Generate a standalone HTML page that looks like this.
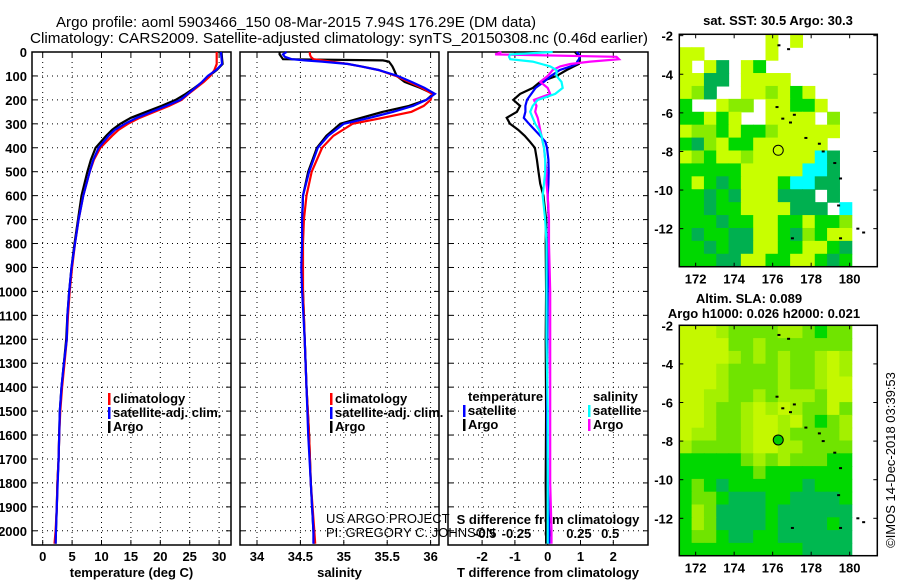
<!DOCTYPE html>
<html><head><meta charset="utf-8"><style>
html,body{margin:0;padding:0;background:#fff}
svg{display:block;font-family:"Liberation Sans",sans-serif}
.b{font-weight:bold;font-size:13px}
</style></head><body>
<svg id="s" width="900" height="580" xmlns="http://www.w3.org/2000/svg">
<text x="296" y="27" font-size="15" text-anchor="middle" textLength="480" lengthAdjust="spacingAndGlyphs">Argo profile: aoml 5903466_150 08-Mar-2015 7.94S 176.29E (DM data)</text>
<text x="339" y="43" font-size="15" text-anchor="middle" textLength="618" lengthAdjust="spacingAndGlyphs">Climatology: CARS2009. Satellite-adjusted climatology: synTS_20150308.nc (0.46d earlier)</text>
<g id="g"></g>
</svg>
<script>
// ---------- data ----------
const depthTicks=[0,100,200,300,400,500,600,700,800,900,1000,1100,1200,1300,1400,1500,1600,1700,1800,1900,2000];
const tempTicks=[0,5,10,15,20,25,30];
const salTicks=[34,34.5,35,35.5,36];
const salTickLabels=["34","34.5","35","35.5","36"];
const tdTicks=[-2,-1,0,1,2];
const sdTicks=[-0.5,-0.25,0,0.25,0.5];
const sdTickLabels=["-0.5","-0.25","0","0.25","0.5"];

const depthT=[0,25,50,75,100,125,150,175,200,225,250,275,300,325,350,400,450,500,600,700,800,900,1000,1100,1200,1300,1400,1500,1600,1700,1800,1900,2000,2054];
const tempArgo=[30.4,30.5,30.6,29.6,28.3,27.2,25.8,24.3,22.6,20.2,17.6,15.0,13.2,11.8,10.8,9.0,8.2,7.6,6.6,6.0,5.4,4.9,4.5,4.2,4.0,3.6,3.2,2.9,2.8,2.7,2.5,2.4,2.25,2.2];
const tempClim=[29.6,29.6,29.6,29.2,28.5,27.4,26.1,24.8,23.6,21.5,19.0,16.5,14.5,12.9,11.8,9.8,8.7,8.0,6.9,6.1,5.5,5.0,4.6,4.3,4.1,3.7,3.3,3.0,2.8,2.7,2.5,2.4,2.2,2.0];
const tempSat=[30.3,30.4,30.5,29.5,28.1,27.1,25.9,24.7,23.4,21.0,18.5,16.0,14.0,12.3,11.2,9.5,8.6,8.0,6.9,6.1,5.5,4.9,4.5,4.2,4.1,3.6,3.2,2.9,2.8,2.7,2.55,2.4,2.26,2.2];

const depthS=[0,10,20,30,35,40,50,60,75,100,125,150,175,200,225,250,275,300,350,400,500,600,700,800,900,1000,1200,1400,1600,1800,2000,2054];
const salArgo=[34.26,34.26,34.28,34.30,35.45,35.52,35.54,35.56,35.58,35.61,35.7,35.88,36.03,35.95,35.75,35.45,35.2,34.96,34.8,34.69,34.59,34.53,34.52,34.52,34.52,34.53,34.55,34.57,34.6,34.62,34.65,34.66];
const salClim=[34.61,34.61,34.62,34.65,34.75,34.85,35.05,35.2,35.4,35.6,35.75,35.9,36.02,36.0,35.92,35.78,35.45,35.1,34.88,34.75,34.63,34.57,34.54,34.53,34.53,34.53,34.55,34.57,34.6,34.62,34.66,34.67];
const salSat=[34.34,34.3,34.32,34.4,34.55,34.75,35.05,35.2,35.4,35.62,35.78,35.93,36.05,35.95,35.8,35.57,35.3,35.0,34.82,34.7,34.6,34.53,34.52,34.52,34.51,34.52,34.55,34.57,34.59,34.62,34.65,34.65];

const depthD=[0,10,20,30,40,50,60,75,100,125,150,175,200,225,250,275,300,325,350,375,400,450,500,550,600,700,800,1000,1200,1500,1800,2000,2054];
const tdArgo=[0.83,0.9,0.98,0.98,0.98,0.95,0.8,0.58,0.27,-0.23,-0.45,-0.84,-1.05,-0.84,-0.94,-1.25,-1.15,-0.9,-0.7,-0.54,-0.39,-0.33,-0.28,-0.23,-0.13,-0.05,-0.06,-0.05,-0.06,-0.05,-0.06,-0.05,-0.05];
const tdSat=[0.88,0.95,0.98,0.95,0.9,0.88,0.7,0.37,0.1,-0.12,-0.37,-0.5,-0.63,-0.68,-0.68,-0.73,-0.57,-0.4,-0.23,-0.07,-0.02,0.02,0.03,0.02,0.0,0.03,0.02,0.0,-0.01,-0.02,0.0,0.05,0.05];
const sdSat=[0.04,-0.3,-0.31,-0.3,-0.12,-0.05,0.02,0.07,0.07,0.11,0.12,0.06,-0.08,-0.12,-0.14,-0.12,-0.1,-0.07,-0.05,-0.04,-0.03,-0.02,-0.02,-0.03,-0.04,-0.02,-0.01,-0.01,-0.01,0.0,0.0,0.0,0.0];
const sdArgo=[-0.37,-0.42,0.55,0.57,0.34,0.18,0.1,0.04,0.0,-0.06,0.0,0.02,-0.11,-0.09,-0.1,-0.08,-0.07,-0.06,-0.05,-0.04,-0.03,-0.02,-0.01,-0.01,0.0,0.01,0.01,0.02,0.02,0.02,0.02,0.03,0.03];

const mapLonTicks=[172,174,176,178,180];
const mapLatTicks=[-2,-4,-6,-8,-10,-12];
const sstGrid=[
".......y.y....",
"yy.....y......",
"y.yd.yg.......",
"yydd.yyyy.....",
"yld..yylygy...",
"g..yll.yyggy..",
"ggygy..yyyy.l.",
"yllgygglyyyyy.",
"gdlyggyyyyyy..",
"ylgyylyyyyycd.",
"gggggyyyyyccd.",
"gygdgyyygccdd.",
"ggdgdyyyddd.d.",
"ggdggyyyyddd.c",
"gggdggyyggyggl",
"gdggddyygdlgyy",
"ggdgddyyggyygd",
"gggddyyggyygdg"];
const slaGrid=[
"yyylmmmmllmgmm",
"yyyymmlmmmmmmm",
"yyyylmlmlmmlyl",
"yyylmmmmlmmlyl",
"yyylmmmmlmmlyy",
"yyllmmlmlllmyy",
"yylmmlylylmmym",
"yylmmlyylymgml",
"yllmmlyylmmmml",
"lmmmmlyyllmmmm",
"gggggmlmlmmmgg",
"ggggggmggggggg",
"gmgdggggggdggg",
"gmmgdddggddddg",
"glmddddgdddddd",
"glmddddgddddgd",
"gmmgddggdddddd",
"ggggggggggdddd"];
const floatLon=[176.3,176.8,176.2,176.9,177.1,177.7,178.4,178.6,179.2,179.5,179.4,177.0,179.5,180.4,180.7,176.5];
const floatLat=[-2.5,-2.7,-5.7,-6.5,-6.1,-7.3,-7.6,-8.0,-8.6,-9.4,-10.8,-12.5,-12.5,-12.0,-12.2,-6.3];
const profLon=176.29, profLat=-7.94;

// ---------- helpers ----------
const NS="http://www.w3.org/2000/svg";
const G=document.getElementById('g');
function mk(tag,attrs,parent){const e=document.createElementNS(NS,tag);for(const k in attrs)e.setAttribute(k,attrs[k]);(parent||G).appendChild(e);return e;}
function txt(x,y,s,cls,anchor,parent){const t=mk('text',{x:x,y:y,'text-anchor':anchor||'middle'},parent);if(cls)t.setAttribute('class',cls);t.textContent=s;return t;}

const Y0=52,Y1=545;
const yD=d=>Y0+d*0.2394;

function panel(name,x0,x1,xs,xticks,xlabels,title){
  const g=mk('g',{});
  
  
  // grid
  xticks.forEach(v=>{const x=xs(v);mk('line',{x1:x,x2:x,y1:Y0,y2:Y1,stroke:'#000','stroke-width':1,'stroke-dasharray':'1,4'},g);
    mk('line',{x1:x,x2:x,y1:Y1,y2:Y1-5,stroke:'#000'},g);mk('line',{x1:x,x2:x,y1:Y0,y2:Y0+5,stroke:'#000'},g);});
  depthTicks.forEach(d=>{const y=yD(d);if(d>0)mk('line',{x1:x0,x2:x1,y1:y,y2:y,stroke:'#000','stroke-dasharray':'1,4'},g);
    mk('line',{x1:x0,x2:x0+5,y1:y,y2:y,stroke:'#000'},g);mk('line',{x1:x1,x2:x1-5,y1:y,y2:y,stroke:'#000'},g);});
  mk('rect',{x:x0,y:Y0,width:x1-x0,height:Y1-Y0,fill:'none',stroke:'#000','stroke-width':1.5},g);
  if(xlabels) xticks.forEach((v,i)=>{const t=txt(xs(v),561,xlabels[i],'b','middle',g);});
  if(title){const t=txt((x0+x1)/2,577,title,'b','middle',g);}
  return g;
}
function line(g,name,depths,vals,xs,color){
  const pts=depths.map((d,i)=>xs(vals[i]).toFixed(1)+','+yD(d).toFixed(1)).join(' ');
  const p=mk('polyline',{points:pts,fill:'none',stroke:color,'stroke-width':2.2,'stroke-linejoin':'miter'},g);
  
  
}
function legend(g,x,y,color,label,name){
  mk('rect',{x:x-5,y:y-10,width:2.5,height:12,fill:color},g);
  const t=txt(x,y,label,'b','start',g);
  
  
}

// depth labels
depthTicks.forEach(d=>{const t=txt(27,yD(d)+5,String(d),'b','end');
  
  });

// panel 1
const xT=v=>42.7+v*5.88;
const p1=panel('temperature-panel',32,231,xT,tempTicks,tempTicks.map(String),'temperature (deg C)');
line(p1,'temp-argo-line',depthT,tempArgo,xT,'#000');
line(p1,'temp-climatology-line',depthT,tempClim,xT,'#f00');
line(p1,'temp-satellite-line',depthT,tempSat,xT,'#00f');
legend(p1,113,403,'#f00','climatology','legend-climatology');
legend(p1,113,417,'#00f','satellite-adj. clim.','legend-satellite');
legend(p1,113,431,'#000','Argo','legend-argo');

// panel 2
const xS=v=>257+(v-34)*86.8;
const p2=panel('salinity-panel',240,439,xS,salTicks,salTickLabels,'salinity');
line(p2,'sal-argo-line',depthS,salArgo,xS,'#000');
line(p2,'sal-climatology-line',depthS,salClim,xS,'#f00');
line(p2,'sal-satellite-line',depthS,salSat,xS,'#00f');
legend(p2,335,403,'#f00','climatology','legend-climatology');
legend(p2,335,417,'#00f','satellite-adj. clim.','legend-satellite');
legend(p2,335,431,'#000','Argo','legend-argo');

// panel 3
const xTD=v=>547.7+v*32.8, xSD=v=>547.7+v*125;
const p3=panel('difference-panel',448,648,xTD,tdTicks,tdTicks.map(String),'T difference from climatology');
sdTicks.forEach((v,i)=>{const t=txt(xSD(v),538,sdTickLabels[i],'b','middle',p3);
  
  });
{const t=txt(548,524,'S difference from climatology','b','middle',p3);
 
 }
line(p3,'tdiff-argo-line',depthD,tdArgo,xTD,'#000');
line(p3,'tdiff-satellite-line',depthD,tdSat,xTD,'#00f');
line(p3,'sdiff-argo-line',depthD,sdArgo,xSD,'#f0f');
line(p3,'sdiff-satellite-line',depthD,sdSat,xSD,'#0ff');
{const t=txt(468,401,'temperature','b','start',p3);}
legend(p3,468,415,'#00f','satellite','legend-temp-satellite');
legend(p3,468,429,'#000','Argo','legend-temp-argo');
{const t=txt(593,401,'salinity','b','start',p3);}
legend(p3,593,415,'#0ff','satellite','legend-sal-satellite');
legend(p3,593,429,'#f0f','Argo','legend-sal-argo');

{const t=txt(326,523,'US ARGO PROJECT',null,'start');t.setAttribute('font-size','13');
 
 
 const t2=txt(326,537,'PI: GREGORY C. JOHNSON',null,'start');t2.setAttribute('font-size','13');
 
 }

// maps
const MX0=679.3,MX1=877.3;
const mLon=v=>MX0+(v-171.15)*19.25;
const colors1={y:'#c8ff00',l:'#88ec00',g:'#00d800',d:'#00b050',c:'#00ffff'};
const colors2={y:'#c4f800',l:'#a4f000',m:'#70e400',g:'#00d800',d:'#00b850'};
function map(name,top,bot,latTop,grid,cols,title1,title2,filledCircle){
  const g=mk('g',{});
  
  
  const mLat=v=>top+(latTop-v)*19.3;
  const dx0=MX0,dx1=851.7,rows=grid.length,nc=grid[0].length;
  const cw=(dx1-dx0)/nc,ch=(bot-top)/rows;
  grid.forEach((row,r)=>{for(let c=0;c<nc;c++){const k=row[c];if(k==='.')continue;
    const cell=mk('rect',{x:(dx0+c*cw).toFixed(2),y:(top+r*ch).toFixed(2),width:(cw+0.6).toFixed(2),height:(ch+0.6).toFixed(2),fill:cols[k]},g);
    
    }});
  floatLon.forEach((lo,i)=>{const d=mk('rect',{x:mLon(lo)-1,y:mLat(floatLat[i])-1,width:3,height:2,fill:'#000'},g);
    
    });
  const c=mk('circle',{cx:mLon(profLon),cy:mLat(profLat),r:5,fill:filledCircle?'#00cc00':'none',stroke:'#000','stroke-width':1},g);
  
  
  mk('rect',{x:MX0,y:top,width:MX1-MX0,height:bot-top,fill:'none',stroke:'#000','stroke-width':1.5},g);
  mapLatTicks.forEach(v=>{const y=mLat(v);if(y<top-1||y>bot)return;
    mk('line',{x1:MX0,x2:MX0+4,y1:y,y2:y,stroke:'#000'},g);mk('line',{x1:MX1,x2:MX1-4,y1:y,y2:y,stroke:'#000'},g);
    const t=txt(673,y+5,String(v),'b','end',g);});
  mapLonTicks.forEach(v=>{const x=mLon(v);
    mk('line',{x1:x,x2:x,y1:bot,y2:bot-4,stroke:'#000'},g);mk('line',{x1:x,x2:x,y1:top,y2:top+4,stroke:'#000'},g);
    const t=txt(x,bot+17,String(v),'b','middle',g);});
  return g;
}
map('sst-map',34.3,266.7,-1.93,sstGrid,colors1,null,null,false);
map('sla-map',325.3,555.7,-2,slaGrid,colors2,null,null,true);
{const t=txt(778,25,'sat. SST: 30.5 Argo: 30.3','b','middle');
 const t2=txt(749,303,'Altim. SLA: 0.089','b','middle');
 const t3=txt(764,318,'Argo h1000: 0.026 h2000: 0.021','b','middle');
 const t4=txt(0,0,'\u00A9IMOS 14-Dec-2018 03:39:53',null,'middle');t4.setAttribute('font-size','13');
 t4.setAttribute('transform','translate(895,460) rotate(-90)');
 
 }
</script>
</body></html>
